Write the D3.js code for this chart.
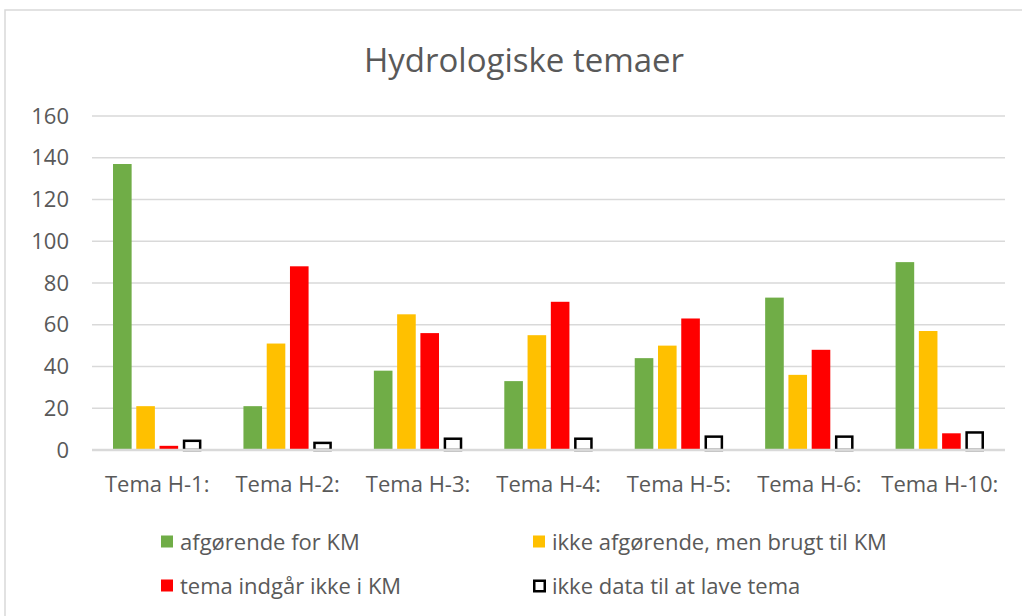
<!DOCTYPE html>
<html>
<head>
<meta charset="utf-8">
<script src="https://cdn.jsdelivr.net/npm/d3@7"></script>
<style>
  body { margin: 0; background: #fff; }
  text { font-family: "Open Sans", sans-serif; fill: #595959; }
</style>
</head>
<body>
<div id="chart"></div>
<script>
// data
var categories = ["Tema H-1:", "Tema H-2:", "Tema H-3:", "Tema H-4:", "Tema H-5:", "Tema H-6:", "Tema H-10:"];
var seriesNames = ["afgørende for KM", "ikke afgørende, men brugt til KM", "tema indgår ikke i KM", "ikke data til at lave tema"];
var afgorende = [137, 21, 38, 33, 44, 73, 90];
var ikkeAfgorende = [21, 51, 65, 55, 50, 36, 57];
var indgaarIkke = [2, 88, 56, 71, 63, 48, 8];
var ikkeData = [5, 4, 6, 6, 7, 7, 9];
var yTicks = [0, 20, 40, 60, 80, 100, 120, 140, 160];

var values = [afgorende, ikkeAfgorende, indgaarIkke, ikkeData];
var fills = ["#70AD47", "#FFC000", "#FF0000", "#FFFFFF"];

var width = 1022, height = 616;
var svg = d3.select("#chart").append("svg")
    .attr("width", width).attr("height", height);

// chart frame
svg.append("rect")
    .attr("x", 5).attr("y", 10)
    .attr("width", width + 10).attr("height", height + 10)
    .attr("fill", "#fff").attr("stroke", "#d9d9d9").attr("stroke-width", 1.5);

svg.append("text")
    .attr("x", 524).attr("y", 72)
    .attr("text-anchor", "middle")
    .style("font-size", "33px")
    .text("Hydrologiske temaer");

var x0 = d3.scaleBand().domain(categories).range([92, 1005]);
var groupW = 88.4;
var x1 = d3.scaleBand().domain(d3.range(4))
    .range([(x0.bandwidth() - groupW) / 2, (x0.bandwidth() + groupW) / 2])
    .paddingInner(0.2);
var y = d3.scaleLinear().domain([0, 160]).range([450, 116]);

// gridlines (zero line drawn later, on top of the bars)
svg.append("g").selectAll("line")
  .data(yTicks.slice(1))
  .enter().append("line")
    .attr("x1", 92).attr("x2", 1005)
    .attr("y1", d => y(d)).attr("y2", d => y(d))
    .attr("stroke", "#d9d9d9").attr("stroke-width", 1.5);

// y axis labels
var yAxis = d3.axisLeft(y).tickValues(yTicks).tickSize(0).tickPadding(0);
var gy = svg.append("g").attr("transform", "translate(69,0)").call(yAxis);
gy.select(".domain").remove();
gy.selectAll("text").style("font-size", "22px").attr("fill", "#595959");

// x axis labels
var xAxis = d3.axisBottom(x0).tickSize(0).tickPadding(0);
var gx = svg.append("g").attr("transform", "translate(0,476)").call(xAxis);
gx.select(".domain").remove();
gx.selectAll("text").style("font-size", "22px").attr("fill", "#595959");

// bars
var group = svg.append("g").selectAll("g")
  .data(categories)
  .enter().append("g")
    .attr("transform", d => `translate(${x0(d)},0)`);

group.selectAll("rect")
  .data((d, i) => values.map((s, k) => ({ k: k, v: s[i] })))
  .enter().append("rect")
    .attr("x", d => x1(d.k) + (d.k == 3 ? 1.25 : 0))
    .attr("width", d => x1.bandwidth() - (d.k == 3 ? 2.5 : 0))
    .attr("y", d => y(d.v) + (d.k == 3 ? 1.25 : 0))
    .attr("height", d => y(0) - y(d.v) - (d.k == 3 ? 1.25 : 0))
    .attr("fill", d => fills[d.k])
    .attr("stroke", d => d.k == 3 ? "#000" : "none")
    .attr("stroke-width", 2.5);

svg.append("line")
    .attr("x1", 92).attr("x2", 1005)
    .attr("y1", y(0)).attr("y2", y(0))
    .attr("stroke", "#d9d9d9").attr("stroke-width", 2.5);

// legend
var legendPos = [[161, 542], [533, 542], [161, 586], [533, 586]];
var legend = svg.append("g").selectAll("g")
  .data(seriesNames)
  .enter().append("g")
    .attr("transform", (d, i) => `translate(${legendPos[i][0]},${legendPos[i][1]})`);

legend.append("rect")
    .attr("x", (d, i) => i == 3 ? 1.25 : 0)
    .attr("y", (d, i) => i == 3 ? -5.25 : -6.5)
    .attr("width", (d, i) => i == 3 ? 10.5 : 12)
    .attr("height", (d, i) => i == 3 ? 10.5 : 12)
    .attr("fill", (d, i) => fills[i])
    .attr("stroke", (d, i) => i == 3 ? "#000" : "none")
    .attr("stroke-width", 2.5);

legend.append("text")
    .attr("x", 19).attr("dy", "0.35em")
    .style("font-size", "22px")
    .text(d => d);
</script>
</body>
</html>
